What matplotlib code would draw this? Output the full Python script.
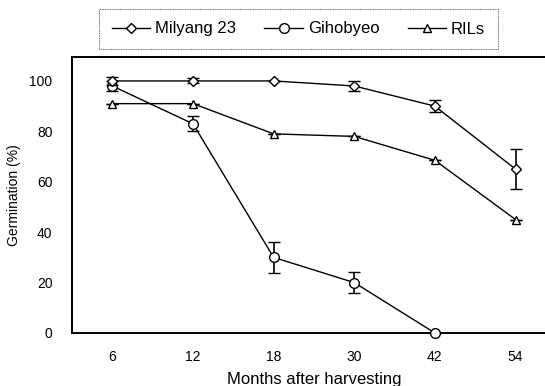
import matplotlib
matplotlib.use("Agg")
import matplotlib.pyplot as plt
from matplotlib.lines import Line2D
import numpy as np

plt.rcParams['font.family'] = ['Liberation Sans', 'DejaVu Sans']

months = ["6", "12", "18", "30", "42", "54"]
milyang = [100, 100, 100, 98, 90, 65]
milyang_err = [1.5, 1, 0, 2, 2.5, 8]
gihobyeo = [98, 83, 30, 20, 0]
gihobyeo_err = [2, 3, 6, 4.2, 0]
rils = [91, 91, 79, 78, 68.5, 45]
rils_err = [0, 0, 0, 0, 0, 0]

fig = plt.figure(figsize=(5.45, 3.86), dpi=100)
ax = fig.add_axes([72/545, 1 - 333/386, 1.02 - 72/545, (333 - 57)/386])

x = np.arange(len(months))
style = dict(color='black', lw=1.0, markerfacecolor='white', markeredgecolor='black',
             markeredgewidth=1.0, capsize=4, elinewidth=1.2, capthick=1.2, clip_on=False)

series = [
    (x, milyang, milyang_err, 'D', 5, 'Milyang 23', 4),
    (x[:len(gihobyeo)], gihobyeo, gihobyeo_err, 'o', 7, 'Gihobyeo', 3),
    (x, rils, rils_err, '^', 6, 'RILs', 3),
]
handles = []
for xs, ys, es, mk, ms, name, z in series:
    ax.errorbar(xs, ys, yerr=es, marker=mk, ms=ms, zorder=z, **style)
    handles.append(Line2D([], [], color='black', lw=1.0, marker=mk, ms=ms,
                          markerfacecolor='white', markeredgecolor='black', label=name))

ax.set_xlim(-0.5, 5.5)
ax.set_ylim(0, 109.5)
ax.set_xticks(x)
ax.set_xticklabels(months)
ax.set_yticks([0, 20, 40, 60, 80, 100])
ax.tick_params(axis='both', length=0, labelsize=10, pad=12)
ax.tick_params(axis='y', pad=14)
for s in ['left', 'top', 'bottom', 'right']:
    ax.spines[s].set_linewidth(1.4)

ax.set_ylabel('Germination (%)', fontsize=10, labelpad=6)
ax.set_xlabel('Months after harvesting', fontsize=12, labelpad=6)

leg = fig.legend(handles=handles, loc='lower center',
                 bbox_to_anchor=(298.5/545, 1 - 49/386), bbox_transform=fig.transFigure,
                 ncol=3, frameon=True, fancybox=False, fontsize=12, handlelength=2.3,
                 columnspacing=1.7, handletextpad=0.3, borderpad=0.75, borderaxespad=0)
leg.get_frame().set_edgecolor('black')
leg.get_frame().set_linewidth(0.6)
leg.get_frame().set_linestyle((0, (1, 1)))

fig.savefig('out.png', dpi=100)
